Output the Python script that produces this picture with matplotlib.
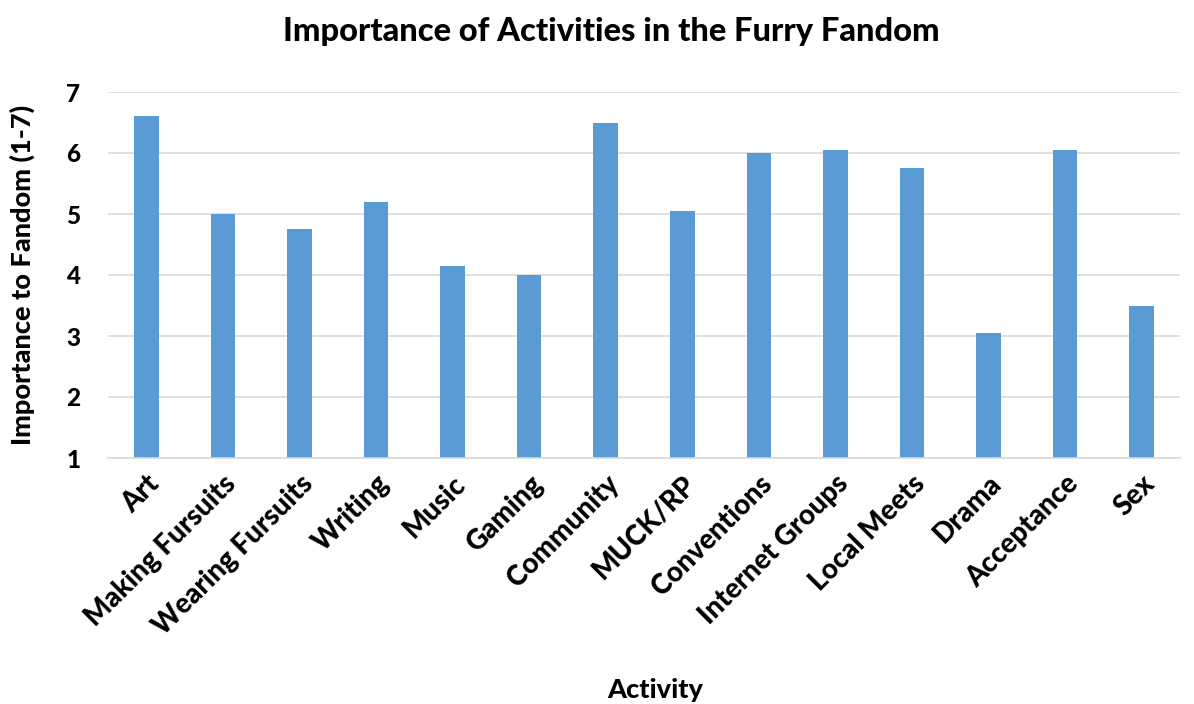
import numpy as np
import matplotlib.pyplot as plt

activities = ['Art', 'Making Fursuits', 'Wearing Fursuits', 'Writing', 'Music', 'Gaming',
              'Community', 'MUCK/RP', 'Conventions', 'Internet Groups', 'Local Meets',
              'Drama', 'Acceptance', 'Sex']
importance = [6.6, 5.0, 4.75, 5.2, 4.15, 4.0, 6.5, 5.05, 6.0, 6.05, 5.75, 3.05, 6.05, 3.5]

plt.rcParams['font.family'] = ['Lato', 'DejaVu Sans']
W = 900

fig = plt.figure(figsize=(11.94, 7.04), dpi=100)
ax = fig.add_axes([108/1194, 1-458/704, (1180-108)/1194, (458-92)/704])

x = np.arange(len(activities))
ax.bar(x, np.array(importance) - 1, bottom=1, width=0.32, color='#5B9BD5', zorder=2)

ax.set_xlim(-0.5, len(activities) - 0.5)
ax.set_ylim(1, 7)
ax.set_yticks(range(1, 8))
ax.yaxis.grid(True, color='#D9D9D9', lw=1.2, zorder=0)
for s in ['top', 'right', 'left']:
    ax.spines[s].set_visible(False)
ax.spines['bottom'].set_color('#D9D9D9')
ax.spines['bottom'].set_linewidth(1.2)
ax.tick_params(axis='y', length=0, labelsize=17.5, pad=20)
ax.tick_params(axis='x', length=0, labelsize=20, pad=9)
ax.set_xticks(x)
ax.set_xticklabels(activities, rotation=45, ha='right', rotation_mode='anchor', fontweight=W)
for t in ax.get_yticklabels():
    t.set_fontweight(W)

ax.set_ylabel('Importance to Fandom (1-7)', fontsize=19.5, fontweight=W, va='center')
ax.yaxis.set_label_coords(-0.08, 0.5)
fig.text(0.549, 0.02, 'Activity', fontsize=19.5, fontweight=W, ha='center', va='center')
fig.text(0.512, 0.955, 'Importance of Activities in the Furry Fandom', fontsize=23.5,
         fontweight=W, ha='center', va='center')

plt.savefig('out.png')
